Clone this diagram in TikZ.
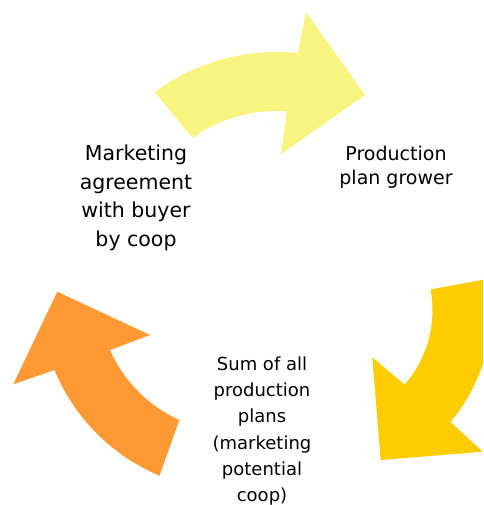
\documentclass[tikz,border=0pt]{standalone}
\usepackage{fontspec}
\setmainfont{DejaVu Sans}

\tikzset{every picture/.style={line width=0.75pt}}
\tikzset{
  lbl/.style={align=center, inner sep=0pt, text=black},
  arrtop/.style={draw opacity=0, fill={rgb, 255:red, 247; green, 244; blue, 128}, fill opacity=1},
  arrright/.style={draw opacity=0, fill={rgb, 255:red, 255; green, 204; blue, 0}, fill opacity=1},
  arrleft/.style={draw opacity=0, fill={rgb, 255:red, 255; green, 153; blue, 51}, fill opacity=1}
}

\begin{document}
\begin{tikzpicture}[x=1pt,y=1pt,yscale=-1,xscale=1]
\useasboundingbox (0,0) rectangle (483,505);
\clip (0,0) rectangle (483,505);

%Shape: Circular Arrow, top
\draw [arrtop] ([shift={(277,258)}]-126.4:206) arc[start angle=-126.4, end angle=-84.2, radius=206] -- (306,12) -- (365,95) -- (281,154) -- ([shift={(277,258)}]-86.1:147) arc[start angle=-86.1, end angle=-125.1, radius=147] -- cycle ;
%Shape: Circular Arrow, right
\draw [arrright] ([shift={(318.5,310)}]-10.4:173) arc[start angle=-10.4, end angle=40.3, radius=173] -- (482.7,451.7) -- (380.7,460) -- (372.3,357.3) -- ([shift={(318.5,310)}]40.9:114) arc[start angle=40.9, end angle=-10.4, radius=114] -- cycle ;
%Shape: Circular Arrow, left
\draw [arrleft] ([shift={(235.5,295)}]112.8:196) arc[start angle=112.8, end angle=157.5, radius=196] -- (13.3,384.3) -- (57.3,291.7) -- (150,335) -- ([shift={(235.5,295)}]156.3:137) arc[start angle=156.3, end angle=114.2, radius=137] -- cycle ;

% Text Node
\node (mkt) [lbl, font=\fontsize{20.5}{28.5}\selectfont] at (136,198) {Marketing\\agreement\\with buyer\\by coop};
% Text Node
\node (prod) [lbl, font=\fontsize{19}{24.3}\selectfont] at (396,167) {Production\\plan grower};
% Text Node
\node (sum) [lbl, font=\fontsize{18}{26.2}\selectfont] at (262,431) {Sum of all\\production\\plans\\(marketing\\potential\\coop)};

\end{tikzpicture}
\end{document}
